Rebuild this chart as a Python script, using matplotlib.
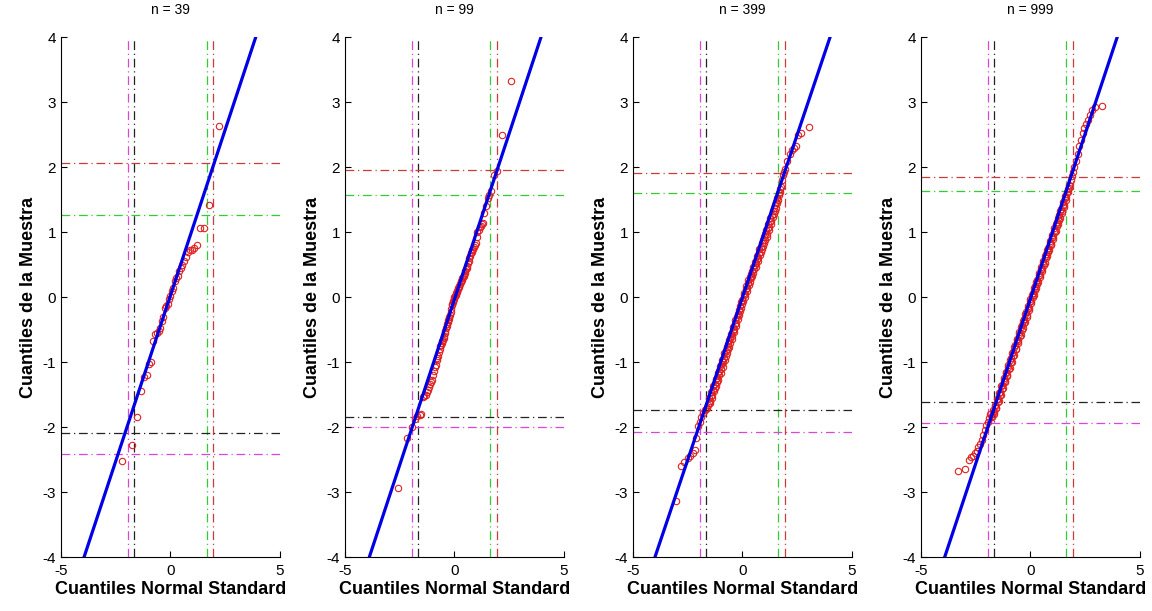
import matplotlib.pyplot as plt

plt.rcParams['font.family'] = ['Liberation Sans', 'DejaVu Sans']
plt.rcParams['axes.unicode_minus'] = False

# sample sizes shown in the panel titles
sizes = [39, 99, 399, 999]

# n = 39: theoretical quantiles / sample quantiles
x39 = [-2.23, -1.77, -1.52, -1.34, -1.20, -1.08, -0.97, -0.87, -0.78, -0.69,
       -0.61, -0.54, -0.47, -0.40, -0.33, -0.26, -0.19, -0.13, -0.06, 0.00,
       0.06, 0.13, 0.19, 0.26, 0.33, 0.40, 0.47, 0.54, 0.61, 0.69,
       0.78, 0.87, 0.97, 1.08, 1.20, 1.34, 1.52, 1.77, 2.23]
y39 = [-2.52, -2.27, -1.84, -1.45, -1.22, -1.19, -1.02, -1.00, -0.67, -0.57,
       -0.55, -0.52, -0.47, -0.36, -0.30, -0.17, -0.14, -0.10, -0.02, 0.02,
       0.10, 0.14, 0.25, 0.29, 0.33, 0.40, 0.45, 0.49, 0.56, 0.62,
       0.70, 0.72, 0.73, 0.76, 0.80, 1.06, 1.07, 1.42, 2.63]

# n = 99
x99 = [-2.57, -2.17, -1.96, -1.81, -1.69, -1.59, -1.51, -1.43, -1.37, -1.31,
       -1.25, -1.20, -1.15, -1.10, -1.05, -1.01, -0.97, -0.93, -0.89, -0.85,
       -0.82, -0.78, -0.75, -0.72, -0.68, -0.65, -0.62, -0.59, -0.56, -0.53,
       -0.50, -0.47, -0.45, -0.42, -0.39, -0.36, -0.34, -0.31, -0.28, -0.26,
       -0.23, -0.20, -0.18, -0.15, -0.13, -0.10, -0.08, -0.05, -0.03, 0.00,
       0.03, 0.05, 0.08, 0.10, 0.13, 0.15, 0.18, 0.20, 0.23, 0.26,
       0.28, 0.31, 0.34, 0.36, 0.39, 0.42, 0.45, 0.47, 0.50, 0.53,
       0.56, 0.59, 0.62, 0.65, 0.68, 0.72, 0.75, 0.78, 0.82, 0.85,
       0.89, 0.93, 0.97, 1.01, 1.05, 1.10, 1.15, 1.20, 1.25, 1.31,
       1.37, 1.43, 1.51, 1.59, 1.69, 1.81, 1.96, 2.17, 2.57]
y99 = [-2.93, -2.16, -1.99, -1.87, -1.83, -1.81, -1.79, -1.53, -1.52, -1.50,
       -1.46, -1.42, -1.38, -1.34, -1.30, -1.27, -1.20, -1.13, -1.08, -1.05,
       -0.96, -0.93, -0.90, -0.85, -0.80, -0.75, -0.73, -0.70, -0.68, -0.66,
       -0.63, -0.60, -0.55, -0.52, -0.48, -0.44, -0.41, -0.38, -0.35, -0.33,
       -0.30, -0.27, -0.23, -0.18, -0.12, -0.10, -0.08, -0.05, -0.03, 0.00,
       0.02, 0.04, 0.06, 0.08, 0.10, 0.12, 0.14, 0.16, 0.18, 0.21,
       0.23, 0.25, 0.27, 0.29, 0.31, 0.33, 0.35, 0.37, 0.40, 0.43,
       0.45, 0.48, 0.52, 0.56, 0.60, 0.64, 0.68, 0.70, 0.72, 0.75,
       0.78, 0.80, 0.83, 0.92, 1.00, 1.03, 1.08, 1.10, 1.12, 1.14,
       1.30, 1.40, 1.52, 1.58, 1.63, 1.88, 1.95, 2.49, 3.32]

# n = 399 (visible points along the dense band)
x399 = [-3.02, -2.80, -2.65, -2.50, -2.38, -2.28, -2.19, -2.11, -2.03, -1.95,
        -1.88, -1.80, -1.73, -1.66,
        -1.60, -1.55, -1.50, -1.45, -1.40, -1.35, -1.30, -1.25, -1.20, -1.15,
        -1.10, -1.05, -1.00, -0.95, -0.90, -0.85, -0.80, -0.75, -0.70, -0.65,
        -0.60, -0.55, -0.50, -0.45, -0.40, -0.35, -0.30, -0.25, -0.20, -0.15,
        -0.10, -0.05, 0.00, 0.05, 0.10, 0.15, 0.20, 0.25, 0.30, 0.35,
        0.40, 0.45, 0.50, 0.55, 0.60, 0.65, 0.70, 0.75, 0.80, 0.85,
        0.90, 0.95, 1.00, 1.05, 1.10, 1.15, 1.20, 1.25, 1.30, 1.35,
        1.40, 1.45, 1.50, 1.55, 1.60, 1.65, 1.70, 1.75,
        1.80, 1.85, 1.90, 1.96, 2.05, 2.15, 2.25, 2.35, 2.43, 2.56, 2.67, 3.02]
y399 = [-3.13, -2.60, -2.54, -2.48, -2.44, -2.40, -2.35, -2.16, -1.98, -1.92,
        -1.84, -1.78, -1.74, -1.72,
        -1.70, -1.62, -1.62, -1.52, -1.55, -1.43, -1.44, -1.33, -1.36, -1.24,
        -1.27, -1.13, -1.16, -1.03, -1.07, -0.93, -0.97, -0.83, -0.86, -0.72,
        -0.76, -0.62, -0.65, -0.52, -0.54, -0.41, -0.44, -0.30, -0.33, -0.19,
        -0.21, -0.08, -0.10, 0.03, 0.00, 0.12, 0.10, 0.22, 0.19, 0.31,
        0.29, 0.41, 0.38, 0.50, 0.47, 0.59, 0.56, 0.68, 0.65, 0.78,
        0.74, 0.88, 0.84, 0.98, 0.93, 1.07, 1.03, 1.17, 1.13, 1.27,
        1.23, 1.37, 1.33, 1.47, 1.45, 1.57, 1.62, 1.70,
        1.80, 1.88, 1.92, 1.97, 2.10, 2.20, 2.27, 2.30, 2.33, 2.50, 2.53, 2.62]
# more points of the same band, between the ones above
x399b = [-1.575, -1.525, -1.475, -1.425, -1.375, -1.325, -1.275, -1.225, -1.175, -1.125,
         -1.075, -1.025, -0.975, -0.925, -0.875, -0.825, -0.775, -0.725, -0.675, -0.625,
         -0.575, -0.525, -0.475, -0.425, -0.375, -0.325, -0.275, -0.225, -0.175, -0.125,
         -0.075, -0.025, 0.025, 0.075, 0.125, 0.175, 0.225, 0.275, 0.325, 0.375,
         0.425, 0.475, 0.525, 0.575, 0.625, 0.675, 0.725, 0.775, 0.825, 0.875,
         0.925, 0.975, 1.025, 1.075, 1.125, 1.175, 1.225, 1.275, 1.325, 1.375,
         1.425, 1.475, 1.525, 1.575, 1.625, 1.675, 1.725]
y399b = [-1.66, -1.55, -1.60, -1.46, -1.50, -1.36, -1.40, -1.26, -1.30, -1.16,
         -1.20, -1.06, -1.10, -0.96, -1.00, -0.86, -0.90, -0.76, -0.80, -0.66,
         -0.70, -0.56, -0.60, -0.46, -0.49, -0.35, -0.39, -0.25, -0.28, -0.14,
         -0.17, -0.04, -0.06, 0.07, 0.05, 0.17, 0.14, 0.27, 0.24, 0.36,
         0.33, 0.46, 0.43, 0.55, 0.52, 0.64, 0.61, 0.74, 0.70, 0.84,
         0.79, 0.93, 0.88, 1.03, 0.98, 1.12, 1.08, 1.22, 1.18, 1.32,
         1.28, 1.42, 1.38, 1.52, 1.50, 1.60, 1.66]

# n = 999 (visible points along the dense band)
x999 = [-3.29, -2.97, -2.81, -2.70, -2.61, -2.54, -2.46, -2.38, -2.30, -2.22,
        -2.15, -2.08, -2.01, -1.95, -1.89, -1.83,
        -1.78, -1.73, -1.68, -1.63, -1.58, -1.53, -1.48, -1.43, -1.38, -1.33,
        -1.28, -1.23, -1.18, -1.13, -1.08, -1.03, -0.98, -0.93, -0.88, -0.83,
        -0.78, -0.73, -0.68, -0.63, -0.58, -0.53, -0.48, -0.43, -0.38, -0.33,
        -0.28, -0.23, -0.18, -0.13, -0.08, -0.03, 0.02, 0.07, 0.12, 0.17,
        0.22, 0.27, 0.32, 0.37, 0.42, 0.47, 0.52, 0.57, 0.62, 0.67,
        0.72, 0.77, 0.82, 0.87, 0.92, 0.97, 1.02, 1.07, 1.12, 1.17,
        1.22, 1.27, 1.32, 1.37, 1.42, 1.47, 1.52, 1.57, 1.62, 1.67, 1.72, 1.77,
        1.83, 1.89, 1.95, 2.01, 2.08, 2.15, 2.22, 2.30, 2.38, 2.46,
        2.54, 2.61, 2.70, 2.81, 2.97, 3.29]
y999 = [-2.68, -2.64, -2.50, -2.46, -2.44, -2.40, -2.36, -2.31, -2.26, -2.20,
        -2.12, -2.04, -1.97, -1.92, -1.86, -1.80,
        -1.82, -1.73, -1.77, -1.67, -1.71, -1.57, -1.61, -1.47, -1.51, -1.37,
        -1.41, -1.27, -1.31, -1.17, -1.21, -1.07, -1.10, -0.96, -1.00, -0.86,
        -0.90, -0.76, -0.80, -0.66, -0.70, -0.56, -0.60, -0.46, -0.50, -0.36,
        -0.40, -0.26, -0.30, -0.16, -0.20, -0.06, -0.09, 0.04, 0.01, 0.14,
        0.11, 0.24, 0.21, 0.34, 0.31, 0.44, 0.41, 0.53, 0.50, 0.63,
        0.60, 0.73, 0.70, 0.83, 0.80, 0.92, 0.90, 1.02, 1.00, 1.12,
        1.09, 1.22, 1.19, 1.32, 1.29, 1.42, 1.39, 1.52, 1.50, 1.62, 1.62, 1.72,
        1.80, 1.86, 1.93, 2.00, 2.10, 2.20, 2.32, 2.42, 2.52, 2.60,
        2.66, 2.72, 2.80, 2.88, 2.93, 2.95]
x999b = [-1.755, -1.705, -1.655, -1.605, -1.555, -1.505, -1.455, -1.405, -1.355, -1.305,
         -1.255, -1.205, -1.155, -1.105, -1.055, -1.005, -0.955, -0.905, -0.855, -0.805,
         -0.755, -0.705, -0.655, -0.605, -0.555, -0.505, -0.455, -0.405, -0.355, -0.305,
         -0.255, -0.205, -0.155, -0.105, -0.055, -0.005, 0.045, 0.095, 0.145, 0.195,
         0.245, 0.295, 0.345, 0.395, 0.445, 0.495, 0.545, 0.595, 0.645, 0.695,
         0.745, 0.795, 0.845, 0.895, 0.945, 0.995, 1.045, 1.095, 1.145, 1.195,
         1.245, 1.295, 1.345, 1.395, 1.445, 1.495, 1.545, 1.595, 1.645, 1.695, 1.745]
y999b = [-1.85, -1.76, -1.80, -1.66, -1.70, -1.56, -1.60, -1.46, -1.50, -1.35,
         -1.39, -1.25, -1.29, -1.15, -1.19, -1.05, -1.09, -0.94, -0.99, -0.84,
         -0.89, -0.74, -0.79, -0.64, -0.68, -0.54, -0.58, -0.43, -0.48, -0.33,
         -0.38, -0.23, -0.27, -0.13, -0.17, -0.03, -0.06, 0.07, 0.04, 0.17,
         0.14, 0.27, 0.24, 0.37, 0.34, 0.47, 0.44, 0.56, 0.53, 0.66,
         0.63, 0.76, 0.73, 0.86, 0.82, 0.96, 0.92, 1.06, 1.02, 1.16,
         1.12, 1.26, 1.22, 1.36, 1.32, 1.46, 1.42, 1.56, 1.54, 1.66, 1.68]

xs = [x39, x99, x399 + x399b, x999 + x999b]
ys = [y39, y99, y399 + y399b, y999 + y999b]

# blue reference line: intercept and slope per panel
fit_a = [0.03, -0.03, 0.00, -0.02]
fit_b = [1.02, 1.02, 1.00, 1.015]

# vertical critical values of the standard normal
v_mag, v_blk, v_grn, v_red = -1.96, -1.645, 1.645, 1.96

# horizontal lines per panel
h_red = [2.06, 1.96, 1.91, 1.85]
h_grn = [1.26, 1.58, 1.61, 1.63]
h_blk = [-2.09, -1.85, -1.73, -1.61]
h_mag = [-2.41, -1.99, -2.08, -1.93]

c_mag = '#dd44dd'
c_blk = '#222222'
c_grn = '#33cc33'
c_red = '#c83c3c'
dd = (0, (7, 3, 1, 3))

fig = plt.figure(figsize=(11.52, 6.11), dpi=100)
lefts = [0.053, 0.2995, 0.5495, 0.7995]

for k in range(4):
    ax = fig.add_axes([lefts[k], 0.088, 0.190, 0.851])

    for xv, c in [(v_mag, c_mag), (v_blk, c_blk), (v_grn, c_grn), (v_red, c_red)]:
        ax.axvline(xv, color=c, ls=dd, lw=0.9, zorder=1)
    for yv, c in [(h_red[k], c_red), (h_grn[k], c_grn), (h_blk[k], c_blk), (h_mag[k], c_mag)]:
        ax.axhline(yv, color=c, ls=dd, lw=0.9, zorder=1)

    ax.plot(xs[k], ys[k], 'o', mfc='none', mec='#e02020', ms=4.6, mew=0.8, zorder=2)

    lx = [-5, 5]
    ly = [fit_a[k] + fit_b[k] * v for v in lx]
    ax.plot(lx, ly, color='#0000e6', lw=2.3, zorder=3)

    ax.set_xlim(-5, 5)
    ax.set_ylim(-4, 4)
    ax.set_xticks([-5, 0, 5])
    ax.set_yticks(range(-4, 5))
    ax.spines['top'].set_visible(False)
    ax.spines['right'].set_visible(False)
    ax.tick_params(direction='in', length=4, labelsize=11)
    ax.tick_params(axis='x', pad=5)
    ax.set_title('n = %d' % sizes[k], fontsize=10, pad=17)
    ax.set_xlabel('Cuantiles Normal Standard', fontsize=13, fontweight='bold', labelpad=2)
    ax.set_ylabel('Cuantiles de la Muestra', fontsize=13, fontweight='bold', labelpad=4)

fig.savefig('out.png', dpi=100)
